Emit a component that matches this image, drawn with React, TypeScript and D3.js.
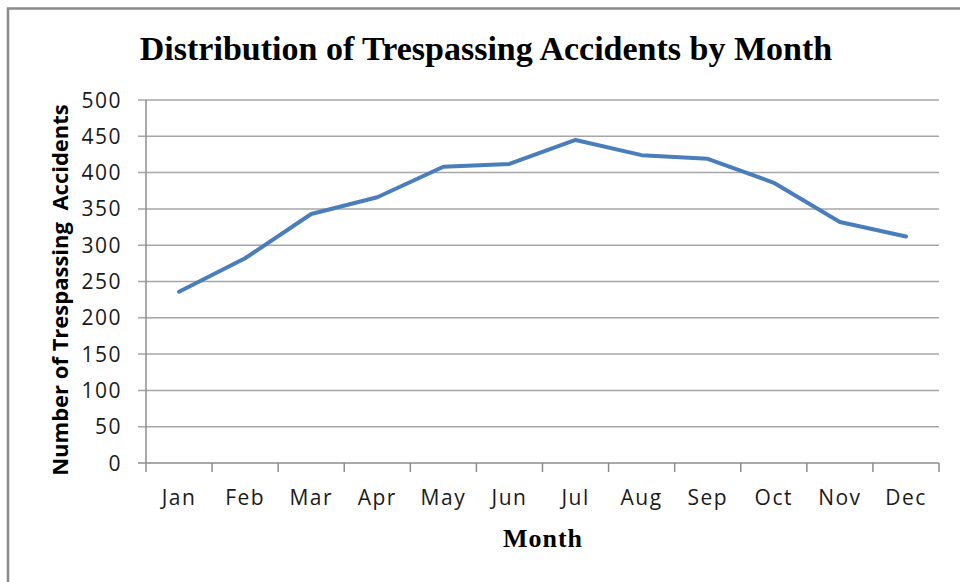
import React, { useEffect, useRef } from "react";
import * as d3 from "d3";

const months = ["Jan", "Feb", "Mar", "Apr", "May", "Jun", "Jul", "Aug", "Sep", "Oct", "Nov", "Dec"];
const accidents = [236, 282, 343, 366, 408, 412, 445, 424, 419, 386, 332, 312];
const yTicks = [0, 50, 100, 150, 200, 250, 300, 350, 400, 450, 500];

function App() {
  const ref = useRef<SVGSVGElement>(null);

  useEffect(() => {
    const svg = d3.select(ref.current);
    svg.selectAll("*").remove();

    const left = 146;
    const right = 939;
    const top = 100;
    const bottom = 463;

    const x = d3.scaleBand().domain(months).range([left, right]);
    const y = d3.scaleLinear().domain([0, 500]).range([bottom, top]);

    // outer frame (cut by the window on right and bottom)
    svg
      .append("path")
      .attr("d", "M8,590 L8,8.5 L970,8.5")
      .attr("fill", "none")
      .attr("stroke", "#8a8a8a")
      .attr("stroke-width", 2.5);

    // gridlines
    svg
      .append("g")
      .selectAll("line")
      .data(yTicks)
      .enter()
      .append("line")
      .attr("x1", left - 8)
      .attr("x2", right)
      .attr("y1", (d) => y(d))
      .attr("y2", (d) => y(d))
      .attr("stroke", (d) => (d === 0 ? "#8c8c8c" : "#a6a6a6"))
      .attr("stroke-width", 1.5);

    // y axis line
    svg
      .append("line")
      .attr("x1", left)
      .attr("x2", left)
      .attr("y1", top)
      .attr("y2", bottom)
      .attr("stroke", "#8c8c8c")
      .attr("stroke-width", 1.5);

    // x ticks at band edges
    const edges = months.map((m) => x(m) || 0).concat([right]);
    svg
      .append("g")
      .selectAll("line")
      .data(edges)
      .enter()
      .append("line")
      .attr("x1", (d) => d)
      .attr("x2", (d) => d)
      .attr("y1", bottom)
      .attr("y2", bottom + 9)
      .attr("stroke", "#8c8c8c")
      .attr("stroke-width", 1.5);

    // y tick labels
    svg
      .append("g")
      .selectAll("text")
      .data(yTicks)
      .enter()
      .append("text")
      .attr("x", 122)
      .attr("y", (d) => y(d))
      .attr("dy", "0.36em")
      .attr("text-anchor", "end")
      .attr("font-family", "Open Sans")
      .attr("font-size", 21)
      .attr("letter-spacing", 1.5)
      .attr("fill", "#1a1a1a")
      .text((d) => d);

    // x tick labels
    svg
      .append("g")
      .selectAll("text")
      .data(months)
      .enter()
      .append("text")
      .attr("x", (d) => (x(d) || 0) + x.bandwidth() / 2)
      .attr("y", 505)
      .attr("text-anchor", "middle")
      .attr("font-family", "Open Sans")
      .attr("font-size", 21)
      .attr("letter-spacing", 1.5)
      .attr("fill", "#1a1a1a")
      .text((d) => d);

    // line
    const line = d3
      .line<number>()
      .x((_, i) => (x(months[i]) || 0) + x.bandwidth() / 2)
      .y((d) => y(d));
    svg
      .append("path")
      .datum(accidents)
      .attr("d", line)
      .attr("fill", "none")
      .attr("stroke", "#4a7ebb")
      .attr("stroke-width", 4)
      .attr("stroke-linejoin", "round")
      .attr("stroke-linecap", "round");

    // title
    svg
      .append("text")
      .attr("x", 486)
      .attr("y", 60)
      .attr("text-anchor", "middle")
      .attr("font-family", "Liberation Serif")
      .attr("font-weight", "bold")
      .attr("font-size", 34)
      .attr("fill", "#000")
      .text("Distribution of Trespassing Accidents by Month");

    // axis titles
    svg
      .append("text")
      .attr("x", 543)
      .attr("y", 547)
      .attr("text-anchor", "middle")
      .attr("font-family", "Liberation Serif")
      .attr("font-weight", "bold")
      .attr("font-size", 26)
      .attr("letter-spacing", 1)
      .attr("fill", "#000")
      .text("Month");

    svg
      .append("text")
      .attr("transform", "translate(68,290) rotate(-90)")
      .attr("text-anchor", "middle")
      .attr("font-family", "Open Sans")
      .attr("font-weight", "bold")
      .attr("font-size", 22)
      .attr("fill", "#000")
      .text("Number of Trespassing  Accidents")
      .style("white-space", "pre");
  });

  return (
    <div style={{ position: "absolute", left: 0, top: 0 }}>
      <svg ref={ref} width={960} height={582} style={{ display: "block", background: "#fff" }}></svg>
    </div>
  );
}

export default App;
